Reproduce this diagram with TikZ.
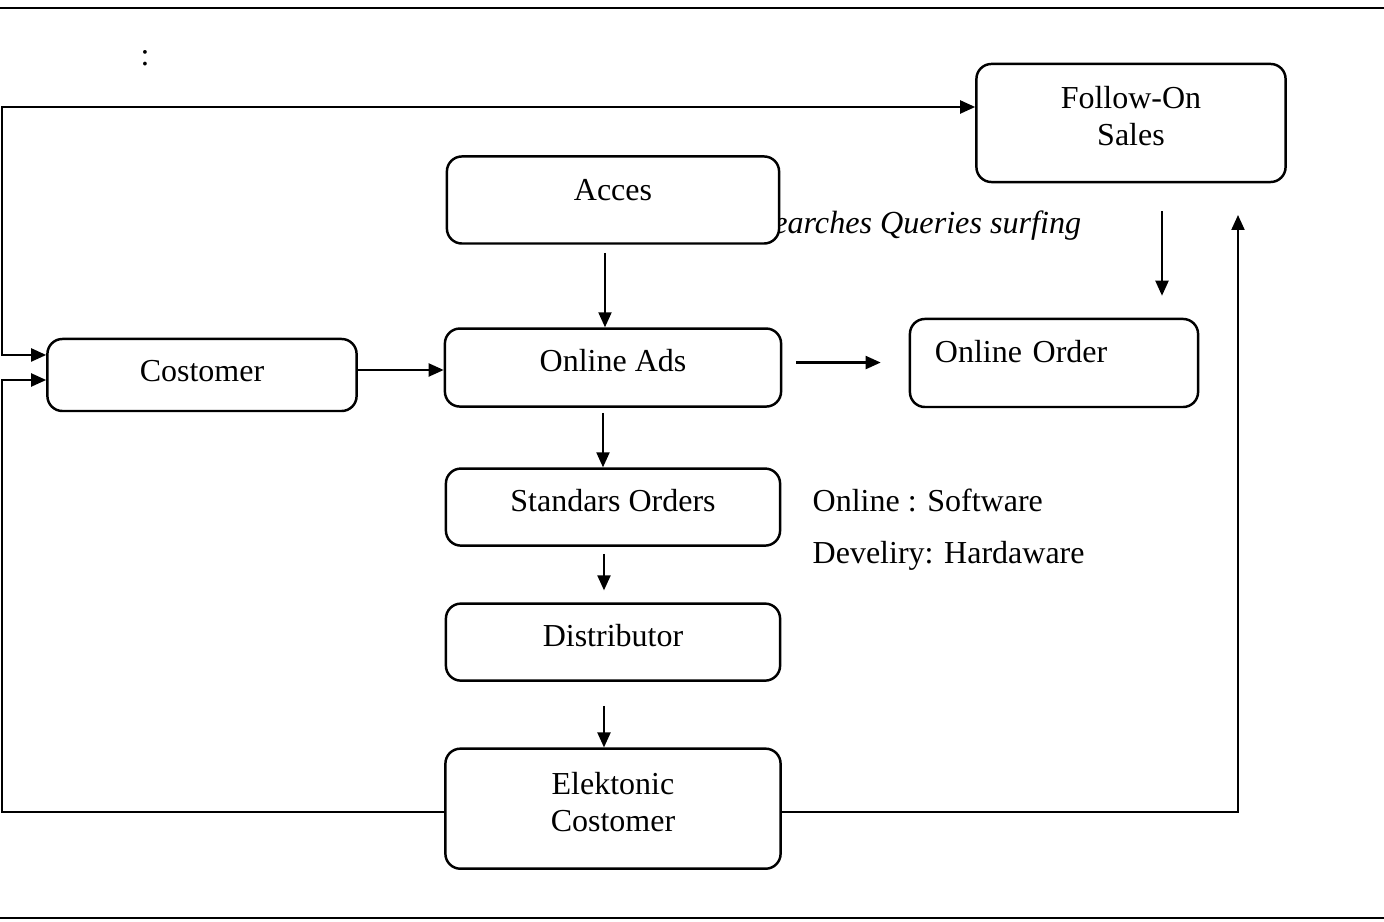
\documentclass[tikz,border=0pt]{standalone}
\usepackage{fontspec}
\setmainfont{Liberation Serif}
\usepackage{tikz}
\usetikzlibrary{positioning, arrows.meta, calc}
\newcommand{\dtext}{\fontsize{9.1}{10.4}\selectfont}
\tikzset{
  proc box/.style={
    draw,
    line width=0.7pt,
    rounded corners=1.5mm,
    fill=white,
    align=center,
    font=\dtext,
    inner sep=0pt,
    text depth=0.14cm
  },
  flow/.style={
    -{Triangle[length=1.5mm, width=1.3mm]},
    line width=0.6pt
  },
  note/.style={font=\dtext, inner sep=0pt, anchor=west},
  frame line/.style={line width=0.8pt}
}
\begin{document}
\begin{tikzpicture}[x=0.01cm, y=-0.01cm]
  \useasboundingbox (0,0) rectangle (1384,922);
  \draw[frame line] (0,8) -- (1384,8);
  \draw[frame line] (0,918) -- (1384,918);

  \node[note, anchor=center] (colon) at (145,58) {:};
  % the box of Acces hides the start of this line
  \node[note, anchor=east, font=\fontsize{9.15}{10.5}\selectfont\itshape] (search) at (1082,226) {Searches Queries surfing};

  \node[proc box, minimum width=3.32cm, minimum height=0.87cm, text depth=0.2cm] (acces) at (613,200) {Acces};
  \node[proc box, minimum width=3.36cm, minimum height=0.78cm, below=0.825cm of acces] (ads) {Online Ads};
  \node[proc box, minimum width=3.34cm, minimum height=0.77cm, below=0.595cm of ads] (std) {Standars Orders};
  \node[proc box, minimum width=3.34cm, minimum height=0.77cm, below=0.555cm of std] (dist) {Distributor};
  \node[proc box, minimum width=3.35cm, minimum height=1.2cm, below=0.655cm of dist] (elek) {Elektonic\\Costomer};
  \node[proc box, minimum width=3.09cm, minimum height=0.72cm, text depth=0.08cm] (cust) at (202,375) {Costomer};
  \node[proc box, minimum width=3.09cm, minimum height=1.18cm] (follow) at (1131,123) {Follow-On\\Sales};
  \node[proc box, minimum height=0.88cm, text width=2.38cm, inner xsep=0.25cm, align=left, text depth=0.24cm] (order) at (1054,363) {Online Order};

  \node[note] (soft) at (812,500) {Online : Software};
  \node[note] (hard) at (812,556) {Develiry: Hardaware};

  \coordinate (lefttop) at (2,107);
  \coordinate (leftbot) at (2,812);
  \coordinate (rightbot) at (1238,812);
  \coordinate (rightup) at (1238,215);

  \draw[flow] ([xshift=-0.08cm, yshift=-0.08cm]acces.south) -- ([xshift=-0.08cm]ads.north);
  \draw[flow] ([xshift=-0.1cm, yshift=-0.05cm]ads.south) -- ([xshift=-0.1cm]std.north);
  \draw[flow, shorten >=0.12cm] ([xshift=-0.09cm, yshift=-0.07cm]std.south) -- ([xshift=-0.09cm]dist.north);
  \draw[flow] ([xshift=-0.09cm, yshift=-0.24cm]dist.south) -- ([xshift=-0.09cm]elek.north);
  \draw[flow] ([yshift=0.05cm]cust.east) -- ([yshift=0.05cm]cust.east -| ads.west);
  \draw[flow, shorten <=0.14cm, shorten >=0.28cm] ([yshift=0.05cm]ads.east) -- ([yshift=0.05cm]ads.east -| order.west);
  \draw[flow, shorten <=0.28cm, shorten >=0.22cm] (follow.south -| 1162,0) -- (order.north -| 1162,0);

  \draw[flow, {Triangle[length=1.5mm, width=1.3mm]}-{Triangle[length=1.5mm, width=1.3mm]}]
    ([yshift=0.2cm]cust.west) -| (lefttop) -- (lefttop -| follow.west);
  \draw[flow] (leftbot -| elek.west) -- (leftbot) |- ([yshift=-0.05cm]cust.west);
  \draw[flow] (rightbot -| elek.east) -- (rightbot) -- (rightup);
\end{tikzpicture}
\end{document}
